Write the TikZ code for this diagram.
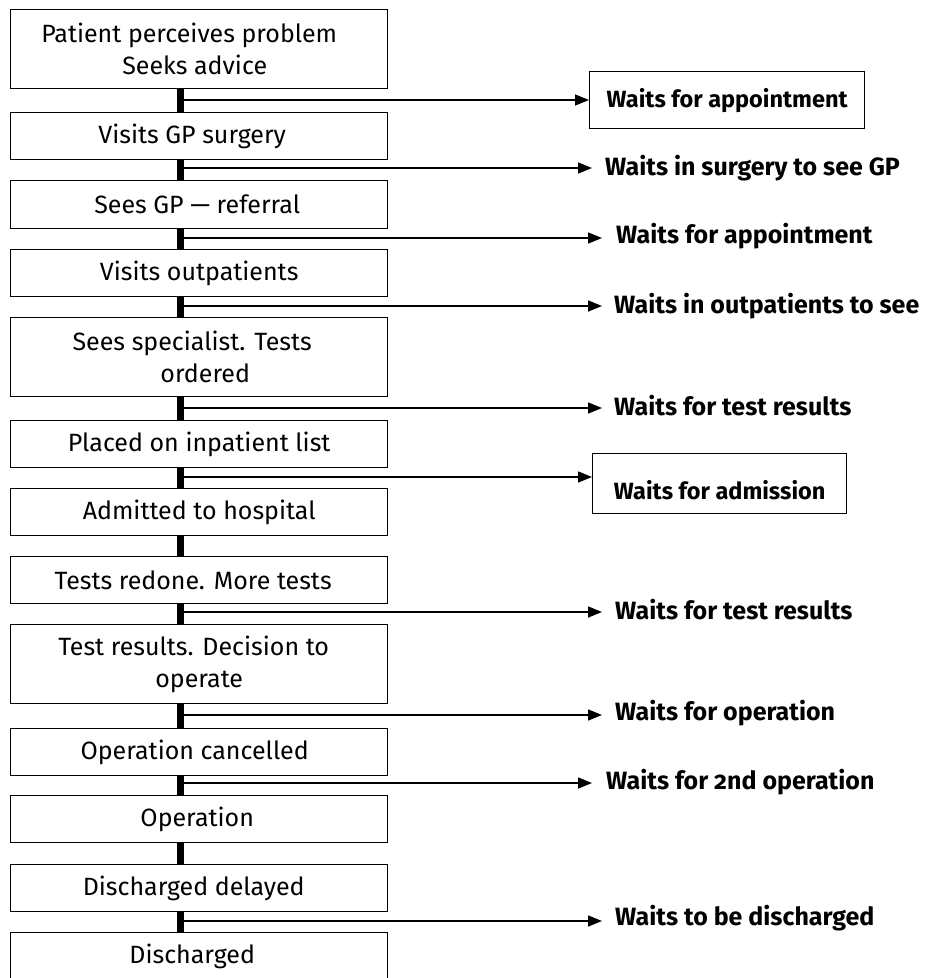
\documentclass[tikz,border=0pt]{standalone}
\usepackage{fontspec}
\setmainfont[Numbers=OldStyle]{Fira Sans}
\usetikzlibrary{arrows.meta}
\newcommand{\lsh}[1]{\hspace*{#1pt}}
\begin{document}
\begin{tikzpicture}[x=1pt,y=-1pt,
  stepbox/.style={draw=black,line width=1.4pt,minimum width=377pt,inner sep=0pt,
    align=center,font=\fontsize{25}{32}\selectfont,anchor=north west},
  spine/.style={line width=6.5pt},
  waitarrow/.style={line width=1.5pt,-{Triangle[length=14pt,width=11pt]}},
  waitlbl/.style={anchor=west,inner xsep=13pt,inner ysep=0pt,font=\fontsize{25}{28}\bfseries\selectfont},
  waitbox/.style={draw=black,line width=1.4pt,inner sep=0pt,anchor=north west,font=\fontsize{23.5}{28}\bfseries\selectfont}]
\useasboundingbox (0,0) rectangle (927,978);
% process boxes
\node[stepbox,minimum height=79pt] (b1) at (10,9) {\lsh{-20}Patient perceives problem\\\lsh{-9}Seeks advice};
\node[stepbox,minimum height=47pt] (b2) at (10,112) {\lsh{-14}Visits GP surgery};
\node[stepbox,minimum height=48pt] (b3) at (10,180) {\lsh{-4}Sees GP — referral};
\node[stepbox,minimum height=47pt] (b4) at (10,249) {Visits outpatients};
\node[stepbox,minimum height=79pt] (b5) at (10,317) {\lsh{-14}Sees specialist. Tests\\\lsh{12}ordered};
\node[stepbox,minimum height=47pt] (b6) at (10,420) {Placed on inpatient list};
\node[stepbox,minimum height=47pt] (b7) at (10,488) {Admitted to hospital};
\node[stepbox,minimum height=47pt] (b8) at (10,556) {\lsh{-12}Tests redone. More tests};
\node[stepbox,minimum height=79pt] (b9) at (10,624) {\lsh{-11}Test results. Decision to\\operate};
\node[stepbox,minimum height=47pt] (b10) at (10,728) {\lsh{-9}Operation cancelled};
\node[stepbox,minimum height=47pt] (b11) at (10,795) {\lsh{-4}Operation};
\node[stepbox,minimum height=47pt] (b12) at (10,864) {\lsh{-11}Discharged delayed};
\node[stepbox,minimum height=48pt] (b13) at (10,932) {\lsh{-14}Discharged};
% spine
\foreach \a/\b in {b1/b2,b2/b3,b3/b4,b4/b5,b5/b6,b6/b7,b7/b8,b8/b9,b9/b10,b10/b11,b11/b12,b12/b13}
  \draw[spine] ([xshift=170.5pt]\a.south west) -- ([xshift=170.5pt]\b.north west);
% junctions
\coordinate (j1) at (183,100);
\coordinate (j2) at (183,168);
\coordinate (j3) at (183,238);
\coordinate (j4) at (183,306);
\coordinate (j5) at (183,408);
\coordinate (j6) at (183,477);
\coordinate (j8) at (183,612);
\coordinate (j9) at (183,715);
\coordinate (j10) at (183,783);
\coordinate (j12) at (183,921);
% waits
\node[waitbox,minimum width=275pt,minimum height=57pt] (w1) at (589,71) {Waits for appointment};
\node[waitlbl] (w2) at (592,168) {Waits in surgery to see GP};
\node[waitlbl,inner xsep=14pt] (w3) at (602,236) {Waits for appointment};
\node[waitlbl,inner xsep=12pt] (w4) at (602,306) {Waits in outpatients to see};
\node[waitlbl,inner xsep=12pt] (w5) at (602,406) {Waits for test results};
\node[waitbox,minimum width=254pt,minimum height=60pt,text height=36pt,text depth=5pt,
  font=\fontsize{23.5}{28}\bfseries\selectfont] (w6) at (592,453) {Waits for admission};
\node[waitlbl] (w8) at (602,610) {Waits for test results};
\node[waitlbl] (w9) at (602,713) {Waits for operation};
\node[waitlbl,inner xsep=14pt] (w10) at (592,782) {Waits for 2nd operation};
\node[waitlbl] (w12) at (602,918) {Waits to be discharged};
\foreach \j/\w in {j1/w1,j2/w2,j3/w3,j4/w4,j5/w5,j6/w6,j8/w8,j9/w9,j10/w10,j12/w12}
  \draw[waitarrow] (\j) -- (\j -| \w.west);
\end{tikzpicture}
\end{document}
